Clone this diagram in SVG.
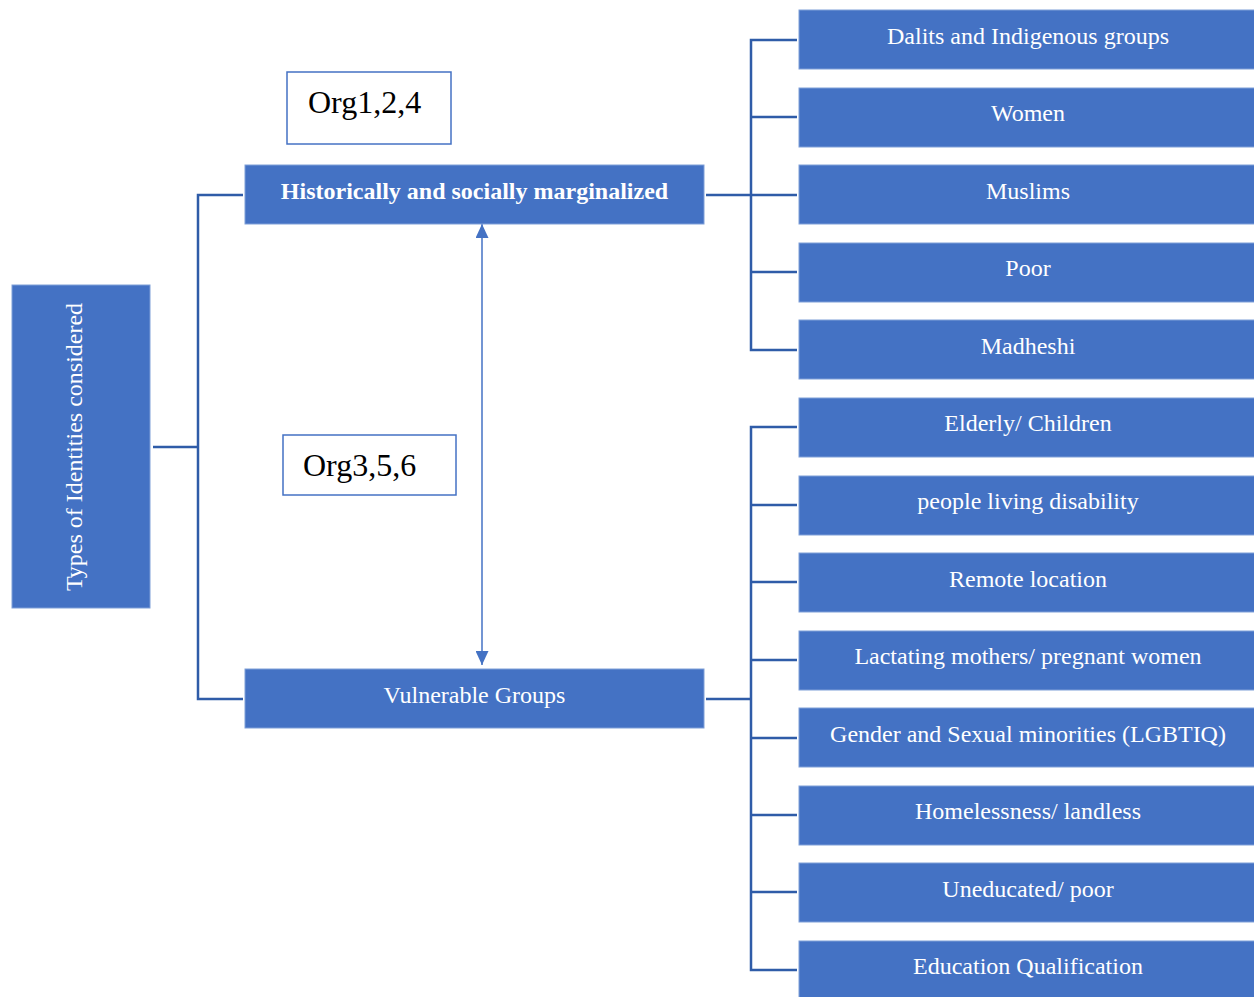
<svg xmlns="http://www.w3.org/2000/svg" width="1254" height="997" viewBox="0 0 1254 997">
<style>
.box{fill:#4472C4;stroke:#7F9FD8;stroke-width:1}
.t{font-family:"Liberation Serif","Times New Roman",serif;font-size:24px;fill:#ffffff;text-anchor:middle}
.org{fill:#ffffff;stroke:#4472C4;stroke-width:1.5}
.ot{font-family:"Liberation Serif","Times New Roman",serif;font-size:32px;fill:#000000}
.c{fill:none;stroke:#2F5CA8;stroke-width:2.5}
</style>
<defs>
<marker id="ah" viewBox="0 0 10 10" refX="10" refY="5" markerWidth="14" markerHeight="13" markerUnits="userSpaceOnUse" orient="auto-start-reverse" preserveAspectRatio="none">
<path d="M0,0 L10,5 L0,10 z" fill="#4472C4"/>
</marker>
</defs>
<rect width="1254" height="997" fill="#ffffff"/>
<g id="connectors">
<path class="c" d="M153,447 H198 M243,195 H198 V699 H243"/>
<path class="c" d="M706,195 H751 M797,40 H751 V350 H797 M751,117 H797 M751,195 H797 M751,272 H797"/>
<path class="c" d="M706,699 H751 M797,427 H751 V970 H797 M751,505 H797 M751,582 H797 M751,660 H797 M751,738 H797 M751,815 H797 M751,892 H797"/>
<line x1="482" y1="224" x2="482" y2="665" stroke="#4472C4" stroke-width="1.5" marker-start="url(#ah)" marker-end="url(#ah)"/>
</g>
<g id="root">
<rect class="box" x="12" y="285" width="138" height="323"/>
<text class="t" transform="translate(82,447) rotate(-90)">Types of Identities considered</text>
</g>
<g id="org124">
<rect class="org" x="287" y="72" width="164" height="72"/>
<text class="ot" x="308" y="113">Org1,2,4</text>
</g>
<g id="org356">
<rect class="org" x="283" y="435" width="173" height="60"/>
<text class="ot" x="303" y="476">Org3,5,6</text>
</g>
<g id="historical">
<rect class="box" x="245" y="165" width="459" height="59"/>
<text class="t" x="474.5" y="199" font-weight="bold">Historically and socially marginalized</text>
</g>
<g id="vulnerable">
<rect class="box" x="245" y="669" width="459" height="59"/>
<text class="t" x="474.5" y="703">Vulnerable Groups</text>
</g>
<g id="n1"><rect class="box" x="799" y="10" width="460" height="59"/><text class="t" x="1028" y="44">Dalits and Indigenous groups</text></g>
<g id="n2"><rect class="box" x="799" y="88" width="460" height="59"/><text class="t" x="1028" y="121">Women</text></g>
<g id="n3"><rect class="box" x="799" y="165" width="460" height="59"/><text class="t" x="1028" y="199">Muslims</text></g>
<g id="n4"><rect class="box" x="799" y="243" width="460" height="59"/><text class="t" x="1028" y="276">Poor</text></g>
<g id="n5"><rect class="box" x="799" y="320" width="460" height="59"/><text class="t" x="1028" y="354">Madheshi</text></g>
<g id="n6"><rect class="box" x="799" y="398" width="460" height="59"/><text class="t" x="1028" y="431">Elderly/ Children</text></g>
<g id="n7"><rect class="box" x="799" y="476" width="460" height="59"/><text class="t" x="1028" y="509">people living disability</text></g>
<g id="n8"><rect class="box" x="799" y="553" width="460" height="59"/><text class="t" x="1028" y="587">Remote location</text></g>
<g id="n9"><rect class="box" x="799" y="631" width="460" height="59"/><text class="t" x="1028" y="664">Lactating mothers/ pregnant women</text></g>
<g id="n10"><rect class="box" x="799" y="708" width="460" height="59"/><text class="t" x="1028" y="742">Gender and Sexual minorities (LGBTIQ)</text></g>
<g id="n11"><rect class="box" x="799" y="786" width="460" height="59"/><text class="t" x="1028" y="819">Homelessness/ landless</text></g>
<g id="n12"><rect class="box" x="799" y="863" width="460" height="59"/><text class="t" x="1028" y="897">Uneducated/ poor</text></g>
<g id="n13"><rect class="box" x="799" y="941" width="460" height="59"/><text class="t" x="1028" y="974">Education Qualification</text></g>
</svg>
